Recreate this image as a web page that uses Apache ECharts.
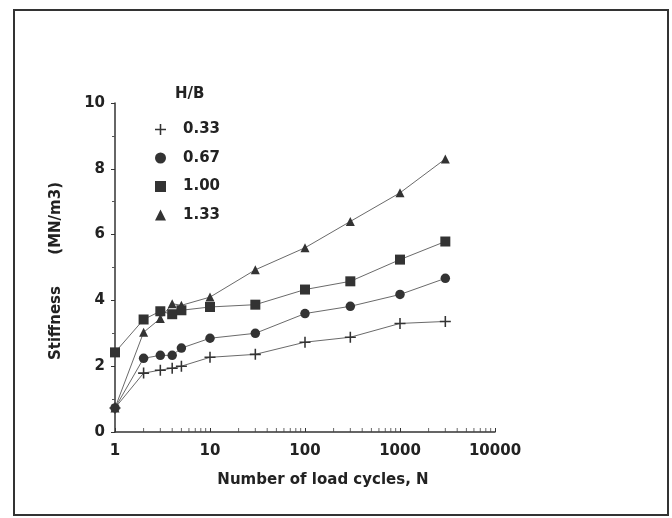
<!DOCTYPE html>
<html><head><meta charset="utf-8">
<script src="https://cdn.jsdelivr.net/npm/echarts@6/dist/echarts.min.js"></script>
<style>html,body{margin:0;padding:0;background:#fff}#c{width:672px;height:518px}</style>
</head><body><div id="c"></div>
<script>
const cycles = [1, 2, 3, 4, 5, 10, 30, 100, 300, 1000, 3000];
const hb033 = [0.73, 1.79, 1.88, 1.94, 2.0, 2.27, 2.36, 2.73, 2.88, 3.3, 3.36];
const hb067 = [0.73, 2.24, 2.33, 2.33, 2.55, 2.85, 3.0, 3.6, 3.82, 4.18, 4.67];
const hb100 = [2.42, 3.42, 3.67, 3.58, 3.7, 3.8, 3.87, 4.33, 4.58, 5.24, 5.79];
const hb133 = [0.73, 3.03, 3.45, 3.9, 3.85, 4.1, 4.93, 5.6, 6.4, 7.27, 8.3];
const seriesNames = ['0.33', '0.67', '1.00', '1.33'];
const xTickLabels = ['1', '10', '100', '1000', '10000'];
const minorX = [2,3,4,5,6,7,8,9,20,30,40,50,60,70,80,90,200,300,400,500,600,700,800,900,2000,3000,4000,5000,6000,7000,8000,9000];

const plusPath = 'path://M4.3,0H5.7V4.3H10V5.7H5.7V10H4.3V5.7H0V4.3H4.3Z';
const symbols = [plusPath, 'circle', 'rect', 'triangle'];
const sizes = [11, 9.5, 10, 9];
const font = '"DejaVu Sans", sans-serif';
const values = [hb033, hb067, hb100, hb133];

const chart = echarts.init(document.getElementById('c'));
const series = values.map((v, i) => ({
  name: seriesNames[i], type: 'line',
  data: cycles.map((n, k) => [n, v[k]]),
  symbol: symbols[i], symbolSize: sizes[i], showSymbol: true,
  lineStyle: { color: '#6a6a6a', width: 1 },
  itemStyle: { color: '#333' },
  z: 3
}));
series.push({
  type: 'scatter', silent: true, name: 'minor',
  data: minorX.map(n => [n, 0]),
  symbol: 'rect', symbolSize: [1, 4], symbolOffset: [0, -2],
  itemStyle: { color: '#444' }, z: 2
});

chart.setOption({
  backgroundColor: '#fff',
  animation: false,
  grid: { left: 115, right: 177, top: 103, bottom: 86 },
  title: { text: 'H/B', left: 170, top: 82, textStyle: { fontFamily: font, fontWeight: 'bold', fontSize: 15, color: '#222' } },
  legend: {
    orient: 'vertical', left: 155, top: 121, itemGap: 11.5, padding: 0,
    itemWidth: 11, itemHeight: 11,
    data: seriesNames.map((n, i) => ({ name: n, icon: symbols[i] })),
    textStyle: { fontFamily: font, fontWeight: 'bold', fontSize: 15, lineHeight: 17, color: '#222', padding: [0, 0, 0, 12] },
    itemStyle: { color: '#333' }
  },
  xAxis: {
    type: 'log', logBase: 10, min: 1, max: 10000,
    axisLine: { lineStyle: { color: '#333', width: 1.5 } },
    axisTick: { inside: true, length: 4, lineStyle: { color: '#333' } },
    splitLine: { show: false },
    axisLabel: { fontFamily: font, fontWeight: 'bold', fontSize: 15, color: '#222', margin: 12,
      formatter: v => { const i = Math.round(Math.log10(v)); return xTickLabels[i] || ''; } }
  },
  yAxis: {
    type: 'value', min: 0, max: 10, interval: 2,
    axisLine: { show: true, lineStyle: { color: '#333', width: 1.5 } },
    axisTick: { show: true, length: 4, lineStyle: { color: '#333' } },
    minorTick: { show: true, splitNumber: 2, length: 3, lineStyle: { color: '#555' } },
    splitLine: { show: false },
    axisLabel: { fontFamily: font, fontWeight: 'bold', fontSize: 15, color: '#222', margin: 10 }
  },
  graphic: [
    { type: 'rect', shape: { x: 14, y: 10, width: 654, height: 505 }, style: { fill: 'none', stroke: '#333', lineWidth: 2 }, silent: true },
    { type: 'text', x: 323, y: 480, style: { text: 'Number of load cycles, N', font: 'bold 15px ' + font, fill: '#222', align: 'center', verticalAlign: 'middle' } },
    { type: 'text', x: 56, y: 271, rotation: Math.PI / 2, style: { text: 'Stiffness      (MN/m3)', font: 'bold 15px ' + font, fill: '#222', align: 'center', verticalAlign: 'middle' } }
  ],
  series: series
});
</script></body></html>
